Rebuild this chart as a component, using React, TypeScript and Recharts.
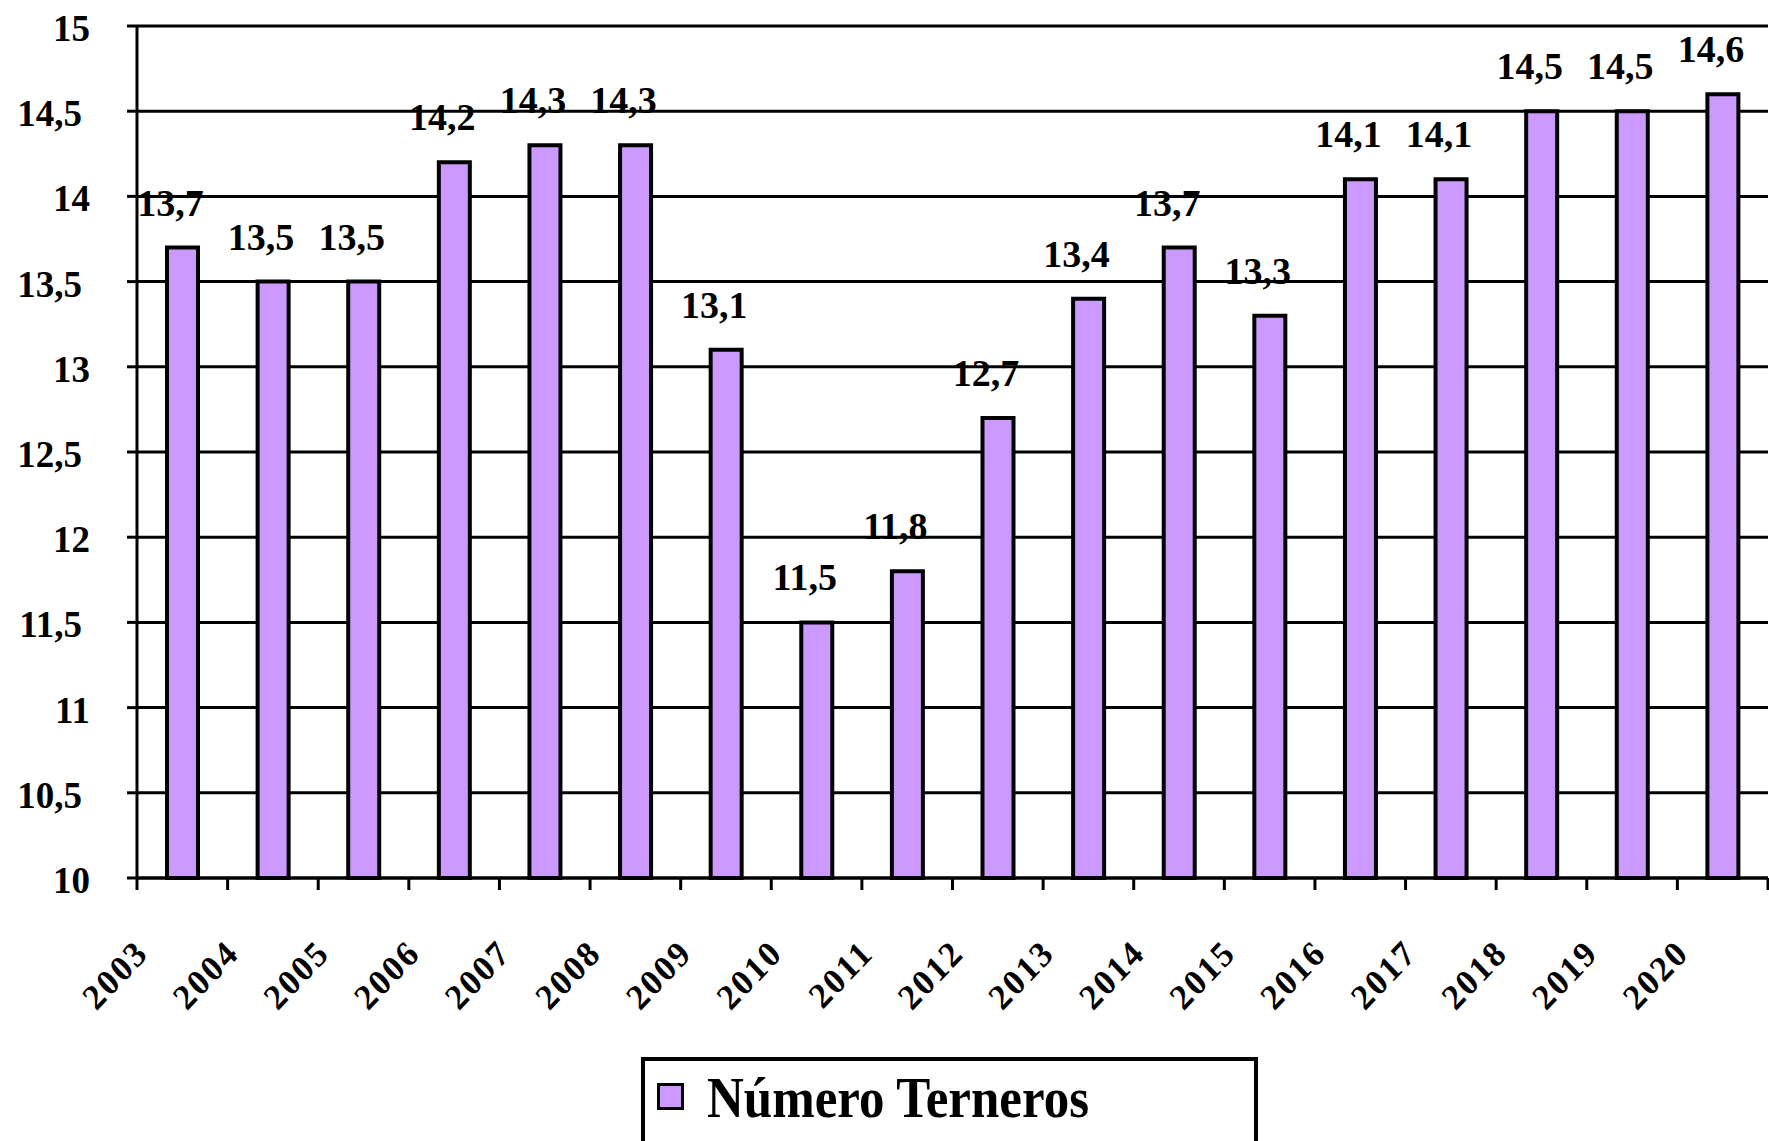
import React from "react";
import {
  Bar,
  BarChart,
  CartesianGrid,
  LabelList,
  XAxis,
  YAxis,
} from "recharts";

const years = [
  "2003", "2004", "2005", "2006", "2007", "2008", "2009", "2010", "2011",
  "2012", "2013", "2014", "2015", "2016", "2017", "2018", "2019", "2020",
];
const terneros = [
  13.7, 13.5, 13.5, 14.2, 14.3, 14.3, 13.1, 11.5, 11.8,
  12.7, 13.4, 13.7, 13.3, 14.1, 14.1, 14.5, 14.5, 14.6,
];
const yTicks = [10, 10.5, 11, 11.5, 12, 12.5, 13, 13.5, 14, 14.5, 15];

const data = years.map((year, i) => ({ year, value: terneros[i] }));

const W = 1769;
const H = 1141;
const LEFT = 137;
const RIGHT = 1;
const BAND = (W - LEFT - RIGHT) / years.length;
const FONT = '"Liberation Serif", "Times New Roman", serif';

const comma = (v: number) => String(v).replace(".", ",");

// year labels sit on the left boundary of each category, like the old Excel chart
function YearTick({ x, y, payload, index }: any) {
  const left = x - BAND / 2;
  const ax = left + 13;
  const ay = y + 77;
  return (
    <g>
      <line x1={left} y1={y} x2={left} y2={y + 12} stroke="#000" strokeWidth={3} />
      {index === years.length - 1 && (
        <line x1={x + BAND / 2} y1={y} x2={x + BAND / 2} y2={y + 12} stroke="#000" strokeWidth={3} />
      )}
      <text
        transform={`translate(${ax} ${ay}) scale(1 1.05) rotate(-45)`}
        textAnchor="end"
        fontFamily={FONT}
        fontWeight="bold"
        fontSize={34}
        letterSpacing={2}
        fill="#000"
      >
        {payload.value}
      </text>
    </g>
  );
}

function ValueTick({ x, y, payload }: any) {
  const whole = Number.isInteger(payload.value);
  return (
    <text
      x={whole ? x : x - 8}
      y={y}
      dy={15}
      textAnchor="end"
      fontFamily={FONT}
      fontWeight="bold"
      fontSize={37}
      fill="#000"
    >
      {comma(payload.value)}
    </text>
  );
}

function ValueLabel({ x, y, width, value }: any) {
  return (
    <text
      x={x + width / 2 - 12}
      y={y - 32}
      textAnchor="middle"
      fontFamily={FONT}
      fontWeight="bold"
      fontSize={38}
      fill="#000"
    >
      {Number(value).toFixed(1).replace(".", ",")}
    </text>
  );
}

export default function App() {
  return (
    <div style={{ position: "absolute", left: 0, top: 0, width: W, height: H, background: "#fff" }}>
      <BarChart
        width={W}
        height={H}
        data={data}
        margin={{ top: 26, right: RIGHT, left: 0, bottom: 0 }}
        barSize={31}
      >
        <CartesianGrid horizontal vertical={false} stroke="#000" strokeWidth={3} />
        <XAxis
          dataKey="year"
          interval={0}
          height={H - 878}
          tickSize={0}
          tickMargin={0}
          tickLine={false}
          axisLine={{ stroke: "#000", strokeWidth: 3 }}
          tick={<YearTick />}
        />
        <YAxis
          type="number"
          domain={[10, 15]}
          ticks={yTicks}
          interval={0}
          width={LEFT}
          tickSize={10}
          tickMargin={37}
          axisLine={{ stroke: "#000", strokeWidth: 3 }}
          tickLine={{ stroke: "#000", strokeWidth: 3 }}
          tick={<ValueTick />}
        />
        <Bar
          dataKey="value"
          fill="#CC99FF"
          stroke="#000"
          strokeWidth={4}
          isAnimationActive={false}
        >
          <LabelList dataKey="value" content={<ValueLabel />} />
        </Bar>
      </BarChart>
      <div
        style={{
          position: "absolute",
          left: 641,
          top: 1057,
          width: 617,
          height: 120,
          border: "4px solid #000",
          boxSizing: "border-box",
          background: "#fff",
        }}
      >
        <div
          style={{
            position: "absolute",
            left: 12,
            top: 22,
            width: 21,
            height: 21,
            background: "#CC99FF",
            border: "3px solid #000",
          }}
        />
        <div
          style={{
            position: "absolute",
            left: 62,
            top: 4,
            fontFamily: FONT,
            fontWeight: "bold",
            fontSize: 51,
            lineHeight: "60px",
            color: "#000",
            whiteSpace: "nowrap",
            transform: "scale(1, 1.1)",
            transformOrigin: "left top",
          }}
        >
          Número Terneros
        </div>
      </div>
    </div>
  );
}
